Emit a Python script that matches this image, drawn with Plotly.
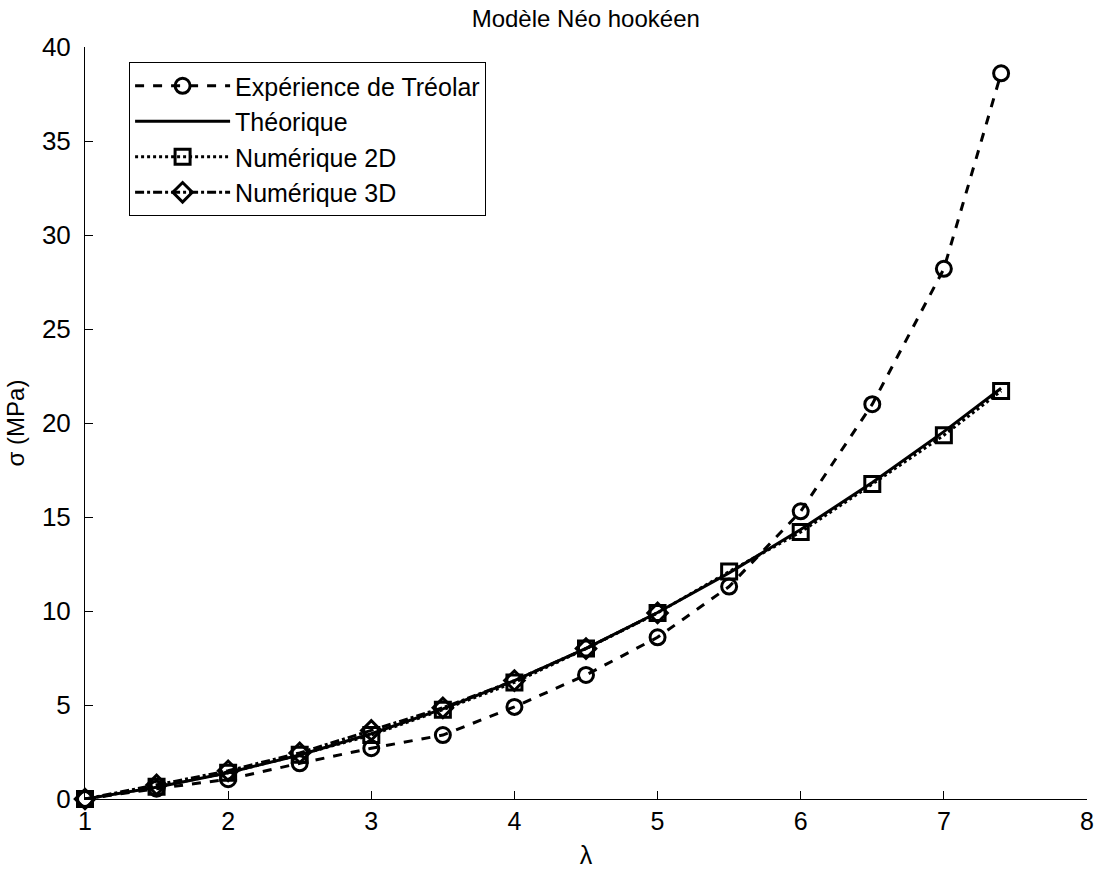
import plotly.graph_objects as go

# Data
lam = [1, 1.5, 2, 2.5, 3, 3.5, 4, 4.5, 5, 5.5, 6, 6.5, 7, 7.4]
sigma_exp = [0, 0.55, 1.05, 1.9, 2.7, 3.4, 4.9, 6.6, 8.6, 11.3, 15.3, 21.0, 28.2, 38.6]
sigma_theo = [0, 0.63, 1.4, 2.34, 3.47, 4.79, 6.3, 8.01, 9.92, 12.03, 14.33, 16.84, 19.54, 21.85]
sigma_2d = [0, 0.65, 1.4, 2.35, 3.4, 4.75, 6.2, 8.0, 9.9, 12.1, 14.2, 16.75, 19.35, 21.7]
lam_3d = [1, 1.5, 2, 2.5, 3, 3.5, 4, 4.5, 5]
sigma_3d = [0, 0.75, 1.5, 2.45, 3.65, 4.85, 6.3, 8.0, 9.9]

xticks = [1, 2, 3, 4, 5, 6, 7, 8]
yticks = [0, 5, 10, 15, 20, 25, 30, 35, 40]

FONT = "Liberation Sans, Arial, sans-serif"
LW = 3

fig = go.Figure()
fig.add_trace(go.Scatter(
    x=lam, y=sigma_exp, mode="lines+markers", name="Expérience de Tréolar",
    line=dict(color="black", width=LW, dash="dash"),
    marker=dict(symbol="circle-open", size=15, color="black", line=dict(width=3)),
    cliponaxis=False))
fig.add_trace(go.Scatter(
    x=lam, y=sigma_theo, mode="lines", name="Théorique",
    line=dict(color="black", width=LW), cliponaxis=False))
fig.add_trace(go.Scatter(
    x=lam, y=sigma_2d, mode="lines+markers", name="Numérique 2D",
    line=dict(color="black", width=LW, dash="dot"),
    marker=dict(symbol="square-open", size=15, color="black", line=dict(width=3)),
    cliponaxis=False))
fig.add_trace(go.Scatter(
    x=lam_3d, y=sigma_3d, mode="lines+markers", name="Numérique 3D",
    line=dict(color="black", width=LW, dash="dashdot"),
    marker=dict(symbol="diamond-open", size=15, color="black", line=dict(width=3)),
    cliponaxis=False))

fig.update_layout(
    width=1099, height=871,
    margin=dict(l=85, r=12, t=47, b=72),
    paper_bgcolor="white", plot_bgcolor="white",
    font=dict(family=FONT, color="black", size=24),
    title=dict(text="Modèle Néo hookéen", x=0.533, xanchor="center",
               y=0.979, yanchor="middle", font=dict(size=24)),
    showlegend=True,
    legend=dict(x=0.044, y=0.98, xanchor="left", yanchor="top",
                bordercolor="black", borderwidth=1, bgcolor="white",
                font=dict(size=25), itemwidth=95, tracegroupgap=0),
)
fig.update_xaxes(
    range=[1, 8], tickvals=xticks, ticks="inside", ticklen=8, tickcolor="black",
    showline=True, linecolor="black", linewidth=1, showgrid=False, zeroline=False,
    automargin=False,
    title=dict(text="λ", font=dict(size=25), standoff=12), tickfont=dict(size=25))
fig.update_yaxes(
    range=[0, 40], tickvals=yticks, ticks="inside", ticklen=8, tickcolor="black",
    showline=True, linecolor="black", linewidth=1, showgrid=False, zeroline=False,
    automargin=False, ticklabelstandoff=8,
    title=dict(text="σ (MPa)", font=dict(size=24), standoff=10), tickfont=dict(size=26))

fig.write_html("out.html")
